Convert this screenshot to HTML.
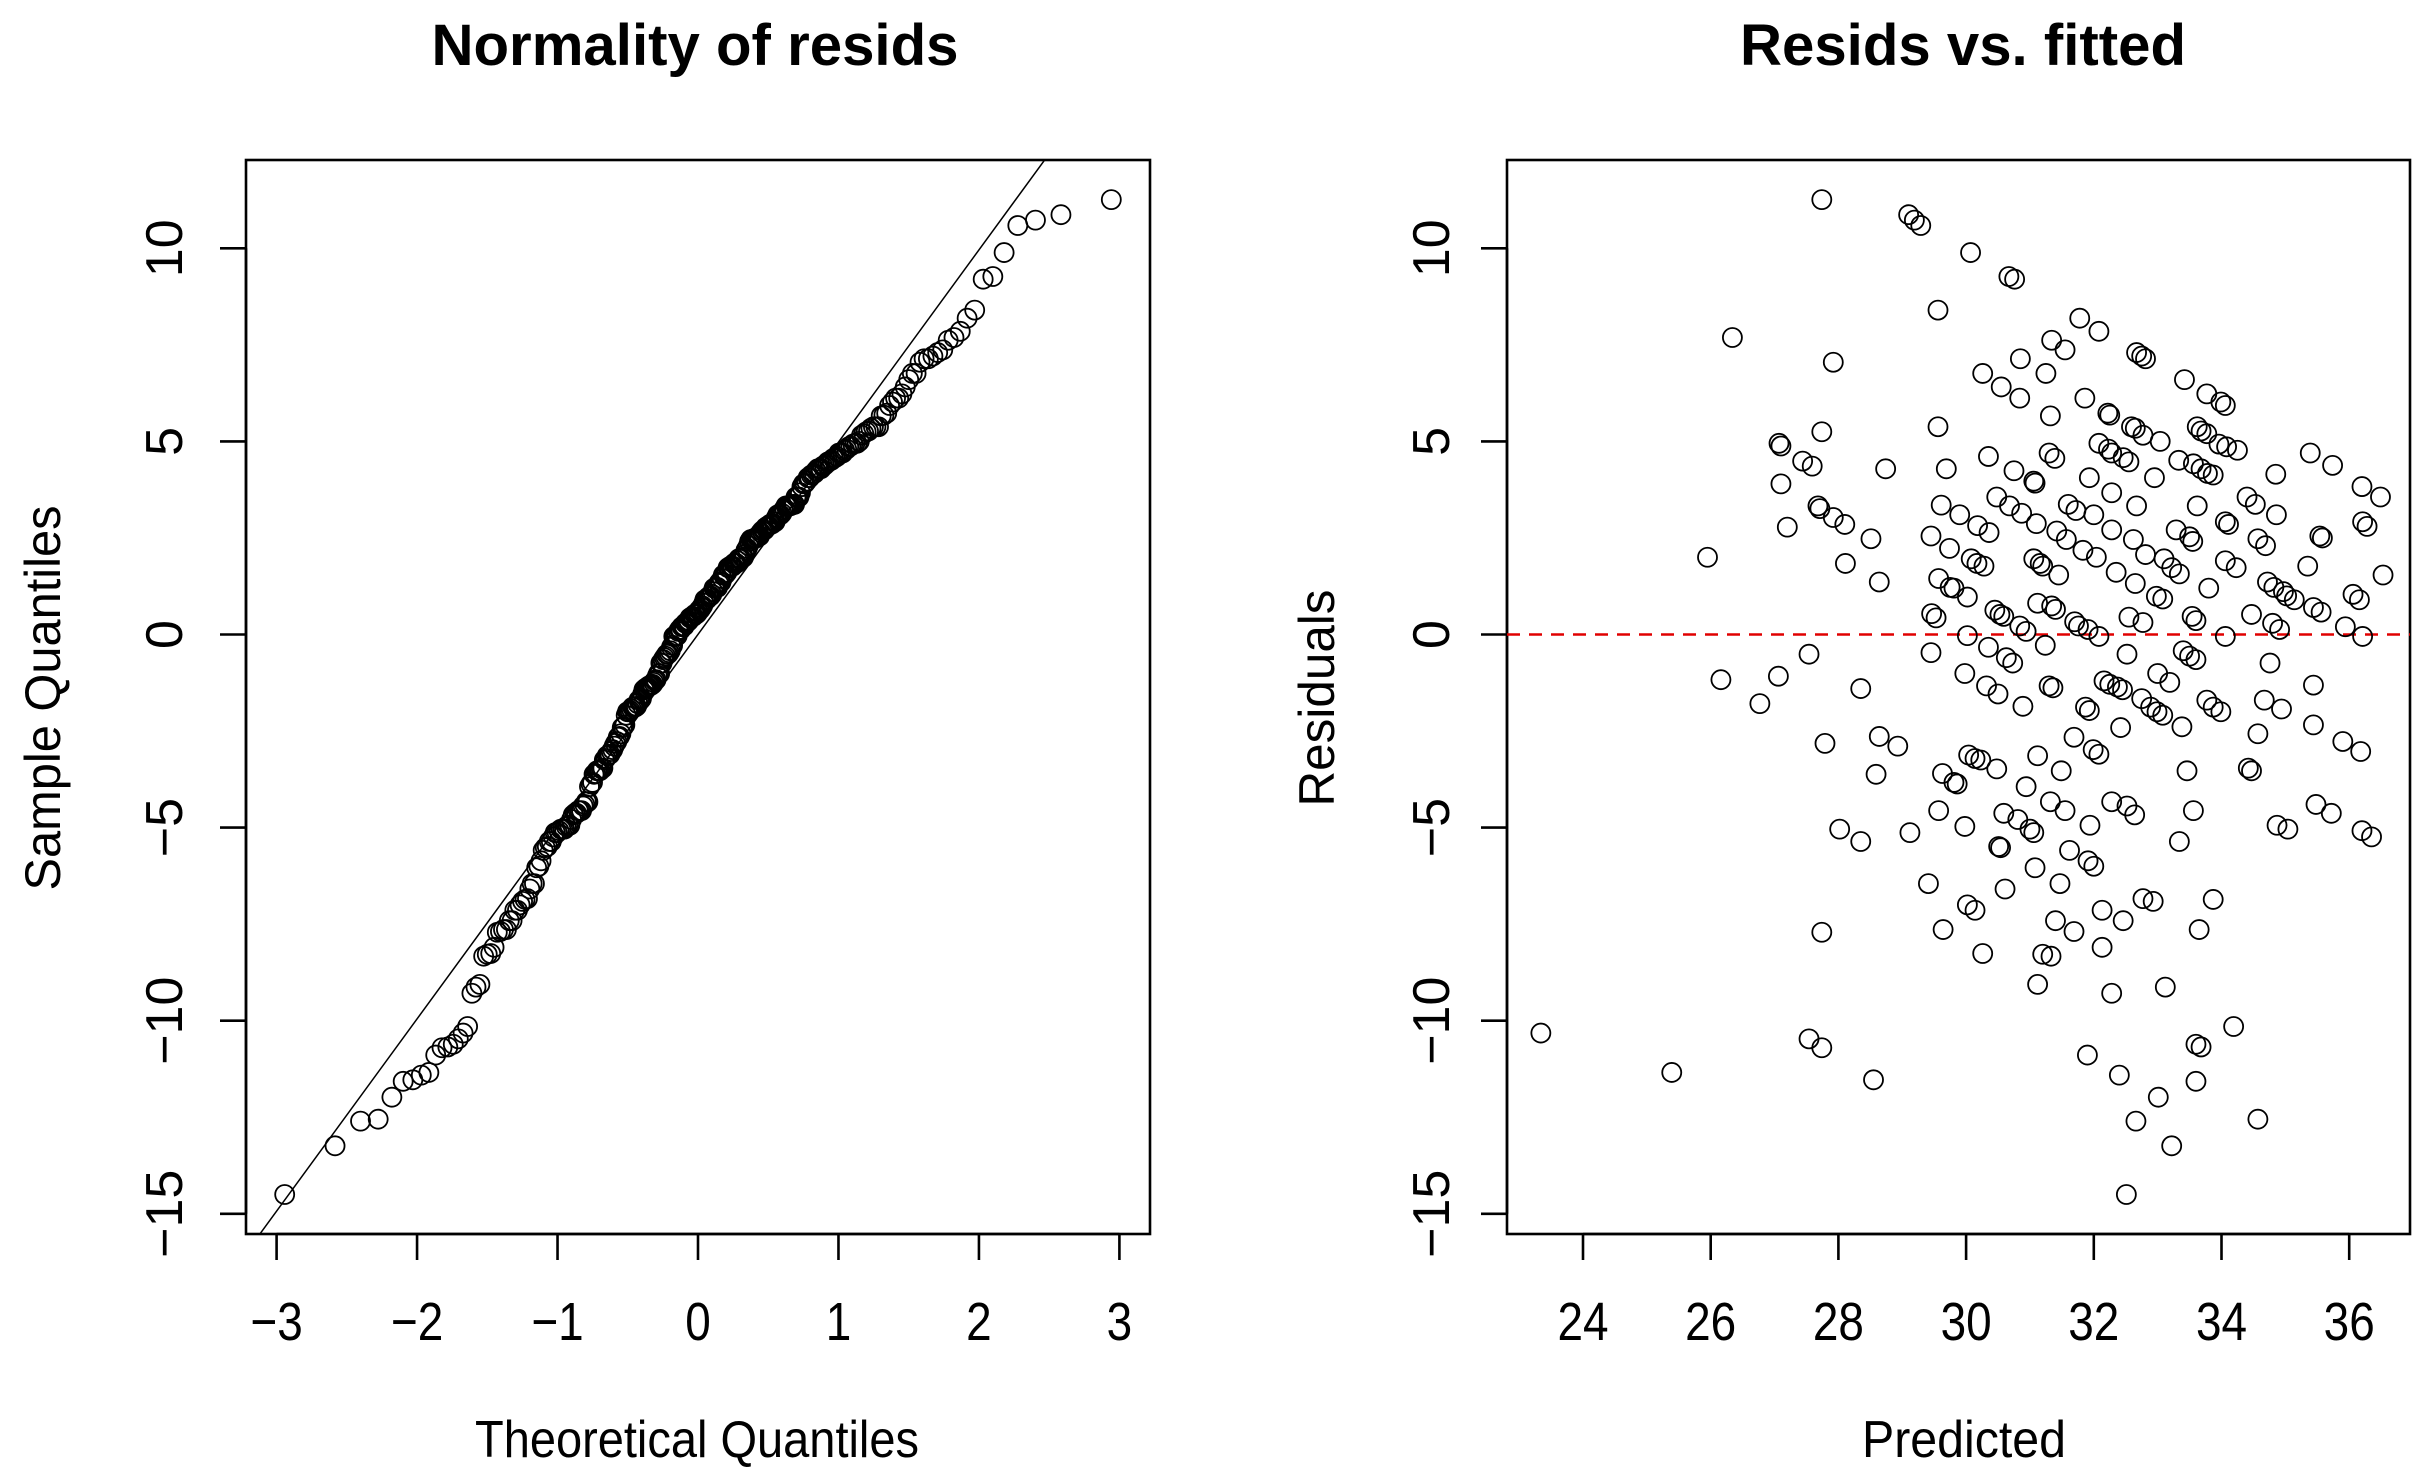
<!DOCTYPE html>
<html><head><meta charset="utf-8"><style>
html,body{margin:0;padding:0;background:#fff}
svg{display:block}
text{font-family:"Liberation Sans",Arial,sans-serif;fill:#000}
</style></head><body>
<svg id="chart" width="2431" height="1477" viewBox="0 0 2431 1477" xmlns="http://www.w3.org/2000/svg">
<rect width="2431" height="1477" fill="#fff"/>
<text x="695" y="65" font-size="58" font-weight="bold" text-anchor="middle" textLength="527" lengthAdjust="spacingAndGlyphs">Normality of resids</text>
<text x="1963" y="65" font-size="58" font-weight="bold" text-anchor="middle" textLength="446" lengthAdjust="spacingAndGlyphs">Resids vs. fitted</text>
<text x="697" y="1457" font-size="52" text-anchor="middle" textLength="444" lengthAdjust="spacingAndGlyphs">Theoretical Quantiles</text>
<text x="1964" y="1457" font-size="52" text-anchor="middle" textLength="204" lengthAdjust="spacingAndGlyphs">Predicted</text>
<text transform="translate(60,698) rotate(-90)" font-size="50" text-anchor="middle" textLength="385" lengthAdjust="spacingAndGlyphs">Sample Quantiles</text>
<text transform="translate(1334,698) rotate(-90)" font-size="50" text-anchor="middle" textLength="217" lengthAdjust="spacingAndGlyphs">Residuals</text>
<g id="qq"></g>
<g id="rf"></g>
</svg>
<script>
const fitted = [23.34,25.39,25.95,26.16,26.34,26.77,27.06,27.07,27.1,27.1,27.2,27.44,27.59,27.54,27.54,27.74,27.74,27.74,27.68,27.71,27.79,27.74,27.92,27.92,28.1,28.11,28.02,28.35,28.35,28.51,28.64,28.59,28.64,28.74,28.55,28.93,29.1,29.19,29.29,29.12,29.41,29.45,29.46,29.53,29.45,29.56,29.56,29.57,29.57,29.61,29.63,29.64,29.69,29.74,29.75,29.81,29.81,29.86,29.9,29.98,29.98,30.02,30.07,30.02,30.02,30.14,30.04,30.14,30.23,30.08,30.17,30.28,30.18,30.26,30.32,30.35,30.35,30.36,30.26,30.5,30.48,30.55,30.48,30.51,30.54,30.59,30.61,30.45,30.53,30.59,30.63,30.73,30.68,30.75,30.67,30.76,30.81,30.85,30.84,30.87,30.84,30.94,30.89,30.94,31.0,31.06,31.08,31.06,31.08,31.1,31.12,31.12,31.12,31.06,31.16,31.2,31.2,31.33,31.24,31.25,31.3,31.36,31.32,31.3,31.39,31.34,31.4,31.32,31.34,31.4,31.42,31.45,31.47,31.49,31.55,31.55,31.57,31.6,31.62,31.69,31.69,31.7,31.76,31.72,31.78,31.83,31.86,31.87,31.93,31.9,31.91,31.93,31.94,31.91,32.0,32.0,31.99,32.08,32.04,32.08,32.08,32.08,32.13,32.13,32.16,32.25,32.22,32.25,32.23,32.28,32.28,32.28,32.28,32.28,32.35,32.37,32.45,32.4,32.42,32.46,32.55,32.51,32.52,32.52,32.64,32.46,32.55,32.59,32.65,32.65,32.66,32.62,32.67,32.67,32.75,32.81,32.75,32.77,32.77,32.81,32.77,32.93,32.89,32.99,33.08,32.95,32.98,33.01,33.04,33.0,33.19,33.08,33.1,33.12,33.22,33.22,33.34,33.29,33.33,33.34,33.38,33.4,33.5,33.6,33.42,33.46,33.5,33.55,33.54,33.6,33.56,33.56,33.6,33.68,33.6,33.62,33.68,33.77,33.62,33.65,33.68,33.78,33.87,33.77,33.87,33.99,33.8,33.77,33.87,33.99,34.06,33.96,34.08,34.06,34.11,34.06,34.23,34.06,34.19,34.25,34.4,34.53,34.42,34.47,34.47,34.57,34.57,34.57,34.69,34.67,34.72,34.82,34.97,34.76,34.8,34.91,34.85,34.86,34.87,35.04,34.94,35.02,35.14,35.35,35.39,35.44,35.56,35.44,35.44,35.48,35.72,35.54,35.58,35.74,35.9,35.94,36.06,36.16,36.18,36.2,36.21,36.28,36.21,36.2,36.35,36.49,36.53];
const resid = [-10.32,-11.34,2.0,-1.17,7.69,-1.79,-1.08,4.95,4.88,3.9,2.78,4.49,4.36,-0.51,-10.47,-10.7,11.26,5.25,3.33,3.26,-2.82,-7.71,7.05,3.03,2.85,1.84,-5.04,-5.36,-1.4,2.48,1.36,-3.62,-2.64,4.29,-11.53,-2.89,10.87,10.73,10.59,-5.13,-6.45,2.55,0.54,0.43,-0.47,8.4,5.38,1.45,-4.56,3.35,-3.6,-7.64,4.29,2.23,1.22,1.2,-3.83,-3.87,3.1,-1.01,-4.97,0.97,9.89,-0.03,-7.0,-7.14,-3.12,-3.21,-3.25,1.96,1.84,1.77,2.82,-8.26,-1.33,-0.33,4.61,2.64,6.76,-1.54,3.56,6.41,-3.48,-5.49,-5.52,-4.63,-6.59,0.63,0.52,0.47,-0.6,-0.74,3.33,4.24,9.27,9.2,-4.79,7.14,6.12,3.14,0.22,0.08,-1.86,-3.94,-5.04,3.97,3.92,-5.13,-6.04,2.87,0.81,-3.14,-9.06,1.96,1.84,1.77,-8.28,-8.33,-0.28,6.76,-1.33,-1.38,5.66,4.7,4.56,0.74,0.65,-4.33,7.62,-7.41,2.68,1.54,-6.45,-3.53,7.37,-4.56,2.46,3.37,-5.59,-7.69,-2.66,0.33,0.22,3.21,8.19,2.18,6.12,-1.88,-1.97,-10.89,0.13,4.06,-4.94,-5.86,-6.0,3.1,-2.98,-3.1,2.0,4.95,7.85,-0.05,-8.1,-7.14,-1.2,-1.29,5.73,5.68,4.8,4.7,-9.29,3.67,2.71,-4.33,1.61,-1.36,-1.43,-11.41,-2.41,4.58,4.47,-14.5,-0.51,-4.44,-4.67,-7.41,0.45,5.38,5.34,1.32,-12.6,2.46,3.33,7.3,7.21,7.14,-1.66,0.31,5.16,2.07,-6.84,-6.91,-1.88,-2.0,-2.09,4.06,0.99,-11.98,5.0,-1.01,-1.24,0.92,1.96,-9.13,-13.24,1.73,1.57,2.71,4.51,-5.36,-2.39,-0.42,-0.56,-0.65,6.6,-3.53,2.53,2.41,0.47,0.36,-4.56,4.42,-10.61,-10.68,-11.57,5.38,5.27,5.2,3.33,-7.64,4.29,4.17,4.13,-1.7,-1.88,-2.0,1.2,6.23,-6.86,6.02,5.93,4.93,4.86,2.92,2.85,1.91,1.73,-0.05,-10.15,4.77,3.56,3.37,-3.46,-3.53,0.52,-2.57,-12.55,2.48,2.3,-1.7,1.36,1.22,1.11,-0.74,0.29,0.13,4.15,3.1,-4.94,-5.04,-1.93,1.0,0.9,1.77,4.7,0.7,0.58,-1.31,-2.34,-4.4,-4.63,2.55,2.5,4.38,-2.77,0.2,1.04,0.9,-3.03,3.83,2.92,2.8,-0.05,-5.08,-5.24,3.56,1.54];
const qqXTicks = [-3,-2,-1,0,1,2,3];
const yTicks = [-15,-10,-5,0,5,10];
const fitTicks = [24,26,28,30,32,34,36];

const NS = 'http://www.w3.org/2000/svg';
const TOP = 160, BOT = 1234;
function yScale(v){ return 634.5 - v * 38.62; }
function qqX(v){ return 698 + v * 140.47; }
function fitX(v){ return 1583 + (v - 24) * 63.85; }
function mk(tag, attrs, parent){ const e = document.createElementNS(NS, tag); for (const k in attrs) e.setAttribute(k, attrs[k]); parent.appendChild(e); return e; }
function fmt(v){ return v < 0 ? '\u2212' + Math.abs(v) : String(v); }

function qnorm(p){
  const a=[-3.969683028665376e+01,2.209460984245205e+02,-2.759285104469687e+02,1.383577518672690e+02,-3.066479806614716e+01,2.506628277459239e+00];
  const b=[-5.447609879822406e+01,1.615858368580409e+02,-1.556989798598866e+02,6.680131188771972e+01,-1.328068155288572e+01];
  const c=[-7.784894002430293e-03,-3.223964580411365e-01,-2.400758277161838e+00,-2.549732539343734e+00,4.374664141464968e+00,2.938163982698783e+00];
  const d=[7.784695709041462e-03,3.224671290700398e-01,2.445134137142996e+00,3.754408661907416e+00];
  const pl=0.02425; let q,r;
  if(p<pl){q=Math.sqrt(-2*Math.log(p));return (((((c[0]*q+c[1])*q+c[2])*q+c[3])*q+c[4])*q+c[5])/((((d[0]*q+d[1])*q+d[2])*q+d[3])*q+1);}
  if(p>1-pl){q=Math.sqrt(-2*Math.log(1-p));return -(((((c[0]*q+c[1])*q+c[2])*q+c[3])*q+c[4])*q+c[5])/((((d[0]*q+d[1])*q+d[2])*q+d[3])*q+1);}
  q=p-0.5;r=q*q;return (((((a[0]*r+a[1])*r+a[2])*r+a[3])*r+a[4])*r+a[5])*q/(((((b[0]*r+b[1])*r+b[2])*r+b[3])*r+b[4])*r+1);
}
function quantile(sorted, p){ const h=(sorted.length-1)*p, lo=Math.floor(h); return sorted[lo]+(h-lo)*((sorted[Math.min(lo+1,sorted.length-1)])-sorted[lo]); }

function drawAxes(g, x0, x1, xTicks, xs, yLabelX, prefix){
  const box = mk('rect', {x:x0, y:TOP, width:x1-x0, height:BOT-TOP, fill:'none', stroke:'#000', 'stroke-width':2.6}, g);
  
  
  const xa = mk('line', {x1:xs(xTicks[0]), x2:xs(xTicks[xTicks.length-1]), y1:BOT, y2:BOT, stroke:'#000', 'stroke-width':2.6}, g);
  
  
  xTicks.forEach(t => {
    const l = mk('line', {x1:xs(t), x2:xs(t), y1:BOT, y2:BOT+26, stroke:'#000', 'stroke-width':2.6}, g);
    
    
    const tx = mk('text', {x:xs(t), y:1340, 'font-size':54, 'text-anchor':'middle', transform:'translate(' + xs(t) + ',0) scale(0.85,1) translate(' + (-xs(t)) + ',0)'}, g);
    tx.textContent = fmt(t);
    
    
  });
  const ya = mk('line', {x1:x0, x2:x0, y1:yScale(yTicks[0]), y2:yScale(yTicks[yTicks.length-1]), stroke:'#000', 'stroke-width':2.6}, g);
  
  
  yTicks.forEach(t => {
    const l = mk('line', {x1:x0-26, x2:x0, y1:yScale(t), y2:yScale(t), stroke:'#000', 'stroke-width':2.6}, g);
    
    
    const tx = mk('text', {'font-size':52, 'text-anchor':'middle', transform:'translate(' + yLabelX + ',' + yScale(t) + ') rotate(-90)'}, g);
    tx.textContent = fmt(t);
    
    
  });
}

const qq = document.getElementById('qq');
drawAxes(qq, 246, 1150, qqXTicks, qqX, 182, 'qq');
const sorted = resid.slice().sort((a,b)=>a-b);
const n = sorted.length;
const aa = n <= 10 ? 3/8 : 0.5;
const theo = sorted.map((v,i) => qnorm((i+1-aa)/(n+1-2*aa)));
const q1 = quantile(sorted, 0.25), q3 = quantile(sorted, 0.75);
const slope = (q3 - q1) / (qnorm(0.75) - qnorm(0.25));
const inter = q1 - slope * qnorm(0.25);
const clip = mk('clipPath', {id:'qqclip'}, qq);
mk('rect', {x:246, y:TOP, width:904, height:BOT-TOP}, clip);
const xl0 = -3.4, xl1 = 3.4;
const ql = mk('line', {x1:qqX(xl0), y1:yScale(inter+slope*xl0), x2:qqX(xl1), y2:yScale(inter+slope*xl1), stroke:'#000', 'stroke-width':1.5, 'clip-path':'url(#qqclip)'}, qq);


sorted.forEach((v,i) => {
  const c = mk('circle', {cx:qqX(theo[i]), cy:yScale(v), r:9.5, fill:'none', stroke:'#000', 'stroke-width':1.8}, qq);
  
  
});

const rf = document.getElementById('rf');
drawAxes(rf, 1507, 2410, fitTicks, fitX, 1449, 'resid');
const zl = mk('line', {x1:1507, x2:2410, y1:yScale(0), y2:yScale(0), stroke:'#e00000', 'stroke-width':2.4, 'stroke-dasharray':'13 9'}, rf);


fitted.forEach((f,i) => {
  const c = mk('circle', {cx:fitX(f), cy:yScale(resid[i]), r:9.5, fill:'none', stroke:'#000', 'stroke-width':1.8}, rf);
  
  
});
</script>
</body></html>
